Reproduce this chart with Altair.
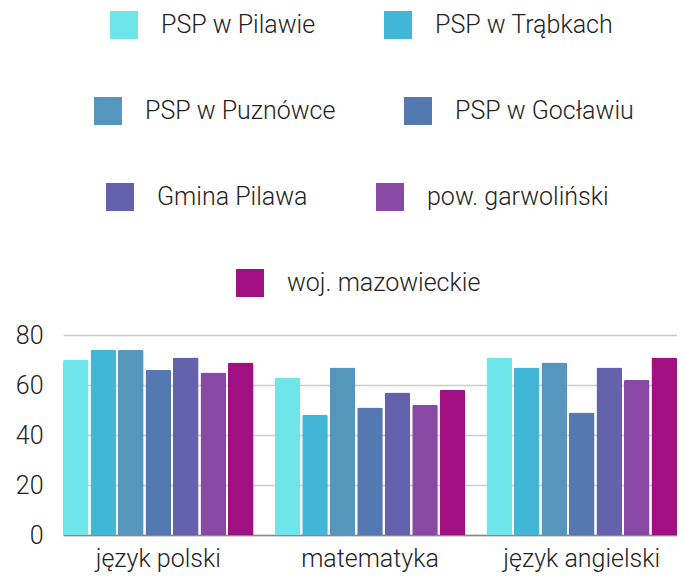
import altair as alt
import pandas as pd

subjects = ["język polski", "matematyka", "język angielski"]
series = ["PSP w Pilawie", "PSP w Trąbkach", "PSP w Puznówce", "PSP w Gocławiu",
          "Gmina Pilawa", "pow. garwoliński", "woj. mazowieckie"]
colors = ["#6ee5e8", "#41b6d6", "#5696bd", "#5478b0", "#6461ad", "#8848a3", "#a01080"]

psp_pilawie = [70, 63, 71]
psp_trabkach = [74, 48, 67]
psp_puznowce = [74, 67, 69]
psp_goclawiu = [66, 51, 49]
gmina_pilawa = [71, 57, 67]
pow_garwolinski = [65, 52, 62]
woj_mazowieckie = [69, 58, 71]

values = [psp_pilawie, psp_trabkach, psp_puznowce, psp_goclawiu,
          gmina_pilawa, pow_garwolinski, woj_mazowieckie]

rows = []
for s, vals in zip(series, values):
    for subj, v in zip(subjects, vals):
        rows.append({"subject": subj, "series": s, "value": v})
df = pd.DataFrame(rows)

FONT = "Roboto"
TXT = "#222222"
FS = 25
FW = 300

# legend rows: which series, and legend position (relative to plot origin)
legend_rows = [[0, 1], [2, 3], [4, 5], [6]]
legend_pos = [(47, -324), (31, -238), (43, -152), (173, -66)]

x_enc = alt.X(
    "subject:N", sort=subjects,
    scale=alt.Scale(paddingInner=0.1, paddingOuter=0),
    axis=alt.Axis(title=None, labelAngle=0, labelFontSize=FS, labelFont=FONT,
                  labelFontWeight=FW, labelColor=TXT, labelPadding=11,
                  ticks=False, grid=False, domainColor="#888888", domainWidth=1.5),
)
y_enc = alt.Y(
    "value:Q", scale=alt.Scale(domain=[0, 80]),
    axis=alt.Axis(title=None, values=[0, 20, 40, 60, 80], labelFontSize=FS,
                  labelFont=FONT, labelFontWeight=FW, labelColor=TXT,
                  labelPadding=20, ticks=False, domain=False,
                  gridColor="#cccccc", gridWidth=1.5),
)
xo_enc = alt.XOffset("series:N", sort=series,
                     scale=alt.Scale(domain=series, paddingInner=0.07))

layers = []
for idxs, (lx, ly) in zip(legend_rows, legend_pos):
    names = [series[i] for i in idxs]
    cols = [colors[i] for i in idxs]
    layer = alt.Chart(df).transform_filter(
        alt.FieldOneOfPredicate(field="series", oneOf=names)
    ).mark_bar(cornerRadiusTopLeft=1.5, cornerRadiusTopRight=1.5).encode(
        x=x_enc, y=y_enc, xOffset=xo_enc,
        color=alt.Color(
            "series:N", sort=names,
            scale=alt.Scale(domain=names, range=cols),
            legend=alt.Legend(
                orient="none", legendX=lx, legendY=ly, direction="horizontal",
                title=None, symbolType="square", symbolSize=784,
                symbolStrokeWidth=0, labelFontSize=FS, labelFont=FONT,
                labelFontWeight=FW, labelColor=TXT, labelOffset=23,
                columnPadding=68, padding=0, labelLimit=400,
            ),
        ),
    )
    layers.append(layer)

chart = alt.layer(*layers).resolve_scale(color="independent").properties(
    width=614, height=200,
    padding={"left": 55, "top": 327, "right": 0, "bottom": 37},
    autosize=alt.AutoSizeParams(type="none"),
).configure_view(stroke=None)

chart.save("out.html", embed_options={"renderer": "svg", "actions": False})
